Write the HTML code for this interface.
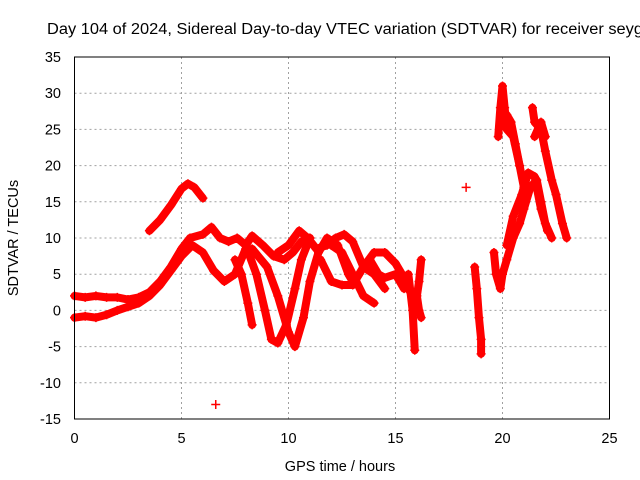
<!DOCTYPE html>
<html><head><meta charset="utf-8"><style>
html,body{margin:0;padding:0;background:#fff;}
svg{display:block;font-family:"Liberation Sans",Arial,sans-serif;}
</style></head><body>
<svg id="chart" width="640" height="480" viewBox="0 0 640 480" xmlns="http://www.w3.org/2000/svg">
<rect width="640" height="480" fill="#fff"/>
<text x="47" y="34" font-size="15.5" textLength="596" lengthAdjust="spacingAndGlyphs" fill="#000">Day 104 of 2024, Sidereal Day-to-day VTEC variation (SDTVAR) for receiver seyg</text>
<g id="grid"></g>
<g id="ticks"></g>
<g id="series"></g>
<rect x="74.5" y="57" width="535" height="362" fill="none" stroke="#000" stroke-width="1"/>
<text x="340" y="471" font-size="14.5" text-anchor="middle">GPS time / hours</text>
<text x="0" y="0" font-size="14.5" text-anchor="middle" transform="translate(18,238) rotate(-90)">SDTVAR / TECUs</text>
</svg>
<script>
const xTicks=[0,5,10,15,20,25];
const yTicks=[-15,-10,-5,0,5,10,15,20,25,30,35];
const trA_t=[0,0.5,1,1.5,2,2.5,3,3.5,4,4.5,5,5.4,6,6.4,6.8,7.2,7.6,8,8.3,8.8,9.3,9.8,10.2,10.6,11];
const trA_v=[2,1.8,2,1.8,1.8,1.5,1.8,2.5,4,6,8.5,10,10.5,11.5,10,9.5,10,9,10.3,9,7.5,7,8,9.5,10];
const trB_t=[0,0.5,1,1.5,2,2.5,3,3.5,4,4.5,5,5.5,6,6.5,7,7.5,8];
const trB_v=[-1,-0.8,-1,-0.6,0,0.5,1,2,3.5,5.5,7.5,9,8,5.5,4,5,8.5];
const trC_t=[3.5,4,4.5,5,5.3,5.6,6];
const trC_v=[11,12.5,14.5,16.8,17.5,17,15.5];
const trD_t=[7.5,7.8,8.1,8.3];
const trD_v=[7,5,1,-2];
const trE_t=[8,8.5,8.9,9.2,9.5,9.9,10.3,10.6,11];
const trE_v=[9,5,0,-4,-4.5,-2,3,7,10];
const trF_t=[8.3,9,9.5,10,10.3,10.7,11,11.4,11.8,12.3,12.8,13,13.3];
const trF_v=[8.5,6,2,-3,-5,-1,4,8,10,9,5,4,5];
const trG_t=[9.5,10,10.5,10.9,11.3,11.8,12.2,12.6,13,13.5,14,14.5];
const trG_v=[8,9,11,10,8.5,9,10,10.5,9.5,6,5,3];
const trH_t=[11.5,12,12.5,13,13.5,14,14.5,15,15.3,15.6,15.8];
const trH_v=[7,4,3.5,3.5,6,8,8,6.5,5,3,2];
const trI_t=[12,12.5,13,13.5,14];
const trI_v=[9,8,5,2,1];
const trJ_t=[13.8,14.2,14.5,15,15.4];
const trJ_v=[7,5,4.5,5,3];
const trK_t=[15.6,15.8,15.9];
const trK_v=[5,0,-5.5];
const trL_t=[16.2,16.1,16,16.1,16.2];
const trL_v=[7,4,2,0,-1];
const trM_t=[18.7,18.8,18.9,19,19];
const trM_v=[6,3,-1,-4,-6];
const trN_t=[19.6,19.7,19.9,20,20.2,20.5,20.8,21,21.3,21.6,21.8,22,22.3];
const trN_v=[8,5,3,5,7,10,12,14,17,18,15,12,10];
const trO_t=[20.2,20.5,20.9,21.2,21.5,21.8,22.1];
const trO_v=[9,13,16,19,18.5,14,11];
const trP_t=[19.8,19.9,20,20.1,20.2,20.5,20.8,21];
const trP_v=[24,28,31,28,25,24,20,17];
const trQ_t=[20.2,20.4,20.6,20.8];
const trQ_v=[27,26,23,20];
const trR_t=[21.4,21.5,21.8,22,22.3,22.5,22.8,23];
const trR_v=[28,26,25,22,18,16,12,10];
const trS_t=[21.5,21.8,22];
const trS_v=[24,26,24];
const single_t=[6.6,18.3];
const single_v=[-13,17];

const NS="http://www.w3.org/2000/svg";
const X0=74.5,X1=609.5,Y0=419,Y1=57;
function xs(t){return X0+(t-0)/(25-0)*(X1-X0);}
function ys(v){return Y0-(v+15)/(35+15)*(Y0-Y1);}
const grid=document.getElementById('grid');
const ticks=document.getElementById('ticks');
const series=document.getElementById('series');
xTicks.forEach(t=>{
  const x=xs(t);
  if(t>0&&t<25){
    const g=document.createElementNS(NS,'line');
    
    
    g.setAttribute('x1',x);g.setAttribute('x2',x);g.setAttribute('y1',Y1);g.setAttribute('y2',Y0);
    g.setAttribute('stroke','#a0a0a0');g.setAttribute('stroke-dasharray','2,3');
    grid.appendChild(g);
  }
  const tx=document.createElementNS(NS,'text');
  
  
  tx.setAttribute('x',x);tx.setAttribute('y',443);tx.setAttribute('font-size','14.5');tx.setAttribute('text-anchor','middle');
  tx.textContent=t;ticks.appendChild(tx);
});
yTicks.forEach(v=>{
  const y=ys(v);
  if(v>-15&&v<35){
    const g=document.createElementNS(NS,'line');
    
    
    g.setAttribute('x1',X0);g.setAttribute('x2',X1);g.setAttribute('y1',y);g.setAttribute('y2',y);
    g.setAttribute('stroke','#a0a0a0');g.setAttribute('stroke-dasharray','2,3');
    grid.appendChild(g);
  }
  const tx=document.createElementNS(NS,'text');
  
  
  tx.setAttribute('x',61);tx.setAttribute('y',y+5);tx.setAttribute('font-size','14.5');tx.setAttribute('text-anchor','end');
  tx.textContent=v;ticks.appendChild(tx);
});
const traces=[[trA_t,trA_v],[trB_t,trB_v],[trC_t,trC_v],[trD_t,trD_v],[trE_t,trE_v],[trF_t,trF_v],[trG_t,trG_v],[trH_t,trH_v],[trI_t,trI_v],[trJ_t,trJ_v],[trK_t,trK_v],[trL_t,trL_v],[trM_t,trM_v],[trN_t,trN_v],[trO_t,trO_v],[trP_t,trP_v],[trQ_t,trQ_v],[trR_t,trR_v],[trS_t,trS_v],[single_t,single_v]];
traces.forEach((tr,i)=>{
  const [T,V]=tr;
  if(T.length>1&&i<traces.length-1){
    const p=document.createElementNS(NS,'polyline');
    
    
    p.setAttribute('points',T.map((t,k)=>xs(t)+','+ys(V[k])).join(' '));
    p.setAttribute('fill','none');p.setAttribute('stroke','#ff0000');
    p.setAttribute('stroke-width','8');p.setAttribute('stroke-linejoin','round');p.setAttribute('stroke-linecap','round');
    series.appendChild(p);
  }
  T.forEach((t,k)=>{
    const x=xs(t),y=ys(V[k]);
    const m=document.createElementNS(NS,'path');
    
    
    m.setAttribute('d','M'+(x-4.5)+','+y+'H'+(x+4.5)+'M'+x+','+(y-4.5)+'V'+(y+4.5));
    m.setAttribute('stroke','#ff0000');m.setAttribute('stroke-width','1.5');
    series.appendChild(m);
  });
});
</script>
</body></html>
